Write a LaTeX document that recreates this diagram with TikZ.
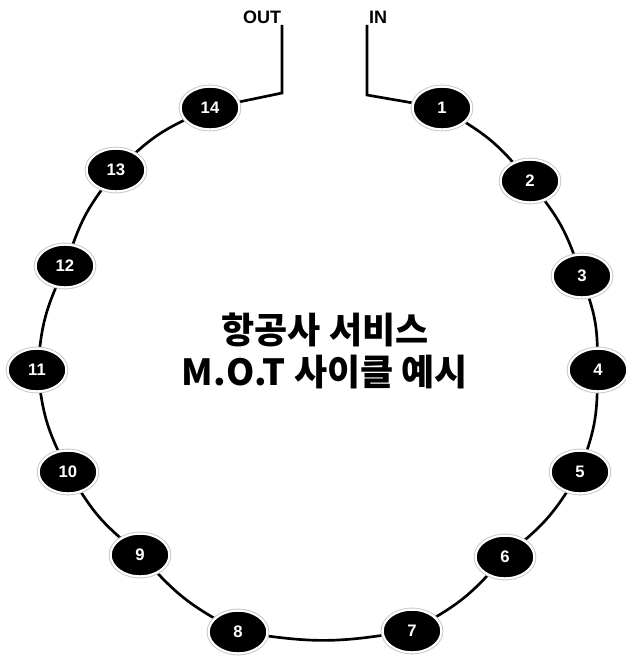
\documentclass[tikz,border=0pt]{standalone}
\usepackage{fontspec}
\setmainfont{Liberation Sans}
\newfontfamily\kor{Noto Sans CJK KR}
\usetikzlibrary{shapes.geometric,backgrounds}
\definecolor{rim}{HTML}{C8C8C8}
\tikzset{
  mot/.style  ={ellipse, fill=black, draw=white, line width=1.6pt,
                minimum width=44pt, minimum height=32pt, inner sep=0pt,
                text=white, font=\bfseries\fontsize{12.5}{14}\selectfont,
                preaction={draw=rim, line width=3pt}},
  link/.style ={draw=black, line width=2pt},
  io/.style   ={font=\bfseries\fontsize{13.5}{15}\selectfont, inner sep=1pt},
  title/.style={font=\kor\bfseries\fontsize{27}{32}\selectfont, align=center}
}
\begin{document}
\begin{tikzpicture}[x=0.75pt,y=-0.75pt]
\useasboundingbox (0,0) rectangle (625,664);
\foreach \i/\x/\y in {1/442/108, 2/530/181, 3/582/276, 4/598/370,
                      5/580/472, 6/505/557, 7/412/631, 8/238/632,
                      9/140/555, 10/68/472, 11/37/370, 12/65/266,
                      13/116/170, 14/210/108}
  \node[mot] (n\i) at (\x,\y) {\i};
\node[io] (out) at (262,17) {OUT};
\node[io] (in)  at (378,17) {IN};
\coordinate (outbend) at (282,93);
\coordinate (inbend)  at (367,95);
\node[title] (cap) at (325,351) {항공사 서비스\\M.O.T 사이클 예시};
\begin{scope}[on background layer]
\foreach \a/\b in {1/2, 2/3, 3/4, 4/5, 5/6, 6/7, 7/8, 8/9, 9/10,
                   10/11, 11/12, 12/13, 13/14}
  \draw[link] (n\a) to[bend left=8] (n\b);
\draw[link] (in.south -| inbend) -- (inbend) -- (n1);
\draw[link] (out.south -| outbend) -- (outbend) -- (n14);
\end{scope}
\end{tikzpicture}
\end{document}
